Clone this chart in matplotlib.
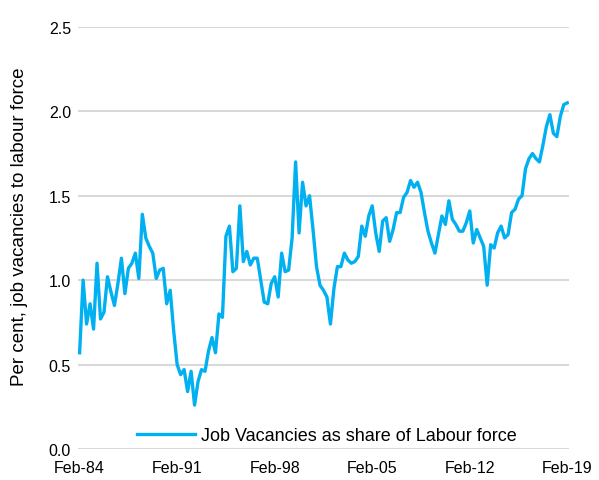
import numpy as np
import matplotlib
matplotlib.use("Agg")
import matplotlib.pyplot as plt

plt.rcParams['font.family'] = ['Liberation Sans', 'DejaVu Sans']

# quarterly series, Feb-84 .. Feb-19 (per cent of labour force)
vacancies = [
    0.57, 1.00, 0.74, 0.86, 0.71, 1.10, 0.77, 0.81, 1.02, 0.93,
    0.85, 0.98, 1.13, 0.92, 1.07, 1.10, 1.16, 1.01, 1.39, 1.25,
    1.20, 1.16, 1.01, 1.06, 1.07, 0.86, 0.94, 0.70, 0.50, 0.44,
    0.47, 0.34, 0.46, 0.26, 0.40, 0.47, 0.46, 0.58, 0.66, 0.57,
    0.80, 0.78, 1.26, 1.32, 1.05, 1.07, 1.44, 1.11, 1.17, 1.09,
    1.13, 1.13, 1.00, 0.87, 0.86, 0.98, 1.02, 0.90, 1.16, 1.05,
    1.06, 1.25, 1.70, 1.28, 1.58, 1.44, 1.50, 1.30, 1.08, 0.97,
    0.94, 0.90, 0.74, 0.95, 1.08, 1.08, 1.16, 1.12, 1.10, 1.11,
    1.14, 1.32, 1.26, 1.38, 1.44, 1.28, 1.17, 1.35, 1.37, 1.23,
    1.30, 1.40, 1.40, 1.49, 1.52, 1.59, 1.55, 1.58, 1.52, 1.40,
    1.29, 1.22, 1.16, 1.27, 1.38, 1.33, 1.47, 1.36, 1.33, 1.29,
    1.29, 1.34, 1.41, 1.22, 1.30, 1.25, 1.20, 0.97, 1.21, 1.19,
    1.28, 1.32, 1.25, 1.27, 1.40, 1.42, 1.48, 1.50, 1.66, 1.72,
    1.75, 1.72, 1.70, 1.80, 1.91, 1.98, 1.87, 1.85, 1.97, 2.04,
    2.05,
]
tick_labels = ['Feb-84', 'Feb-91', 'Feb-98', 'Feb-05', 'Feb-12', 'Feb-19']
yticks = [0.0, 0.5, 1.0, 1.5, 2.0, 2.5]

x = np.arange(len(vacancies))

fig = plt.figure(figsize=(5.99, 4.81), dpi=100)
ax = fig.add_axes([0.130, 0.0645, 0.820, 0.8775])

ax.plot(x, vacancies, color='#00B0F0', lw=2.4, solid_joinstyle='round',
        label='Job Vacancies as share of Labour force', zorder=3)

ax.set_xlim(-0.5, len(vacancies) - 0.5)
ax.set_ylim(0, 2.5)
ax.set_yticks(yticks)
ax.set_yticklabels([f'{v:.1f}' for v in yticks])
ax.set_xticks(np.arange(0, len(vacancies), 28))
ax.set_xticklabels(tick_labels)
ax.tick_params(length=0, labelsize=11.5, colors='black')
ax.tick_params(axis='y', pad=5)
ax.tick_params(axis='x', pad=8)
ax.grid(axis='y', color='#d9d9d9', lw=1.5, zorder=0)
for s in ax.spines.values():
    s.set_visible(False)

ax.set_ylabel('Per cent, job vacancies to labour force', fontsize=13.5)
ax.yaxis.set_label_coords(-0.102, 0.53)

ax.legend(loc='center', bbox_to_anchor=(0.507, 0.031), frameon=False,
          fontsize=13, handlelength=3.2, handletextpad=0.3)

fig.savefig('out.png', dpi=100)
